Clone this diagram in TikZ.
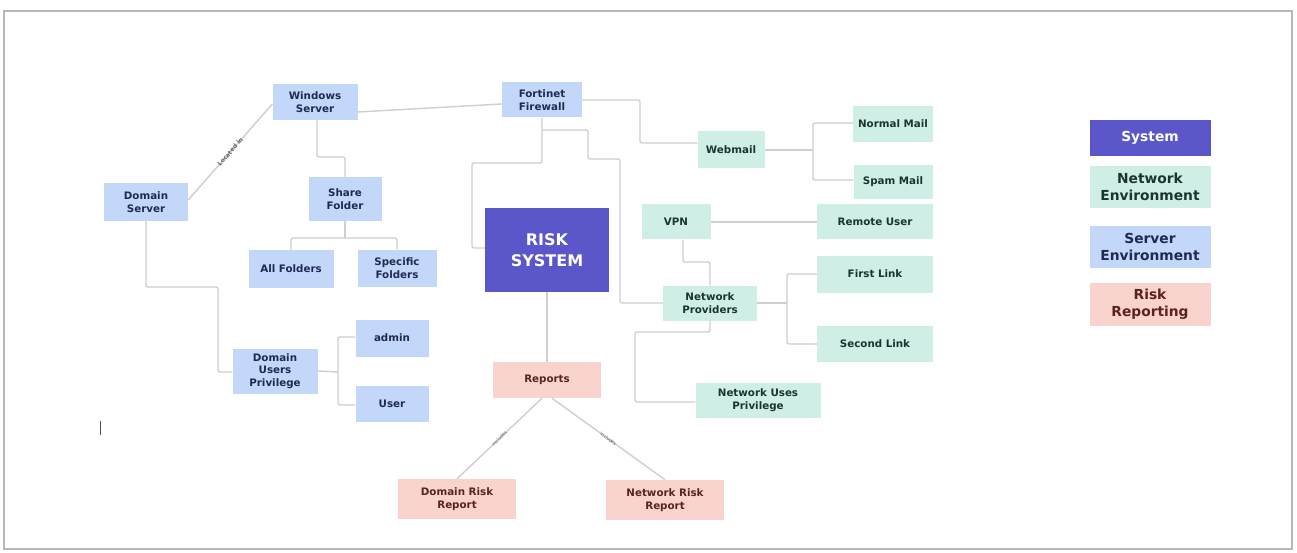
\documentclass[tikz,border=0pt]{standalone}
\usepackage{fontspec}
\setmainfont{DejaVu Sans}
\definecolor{srvc}{HTML}{C3D7F8}
\definecolor{srvt}{HTML}{1E2A55}
\definecolor{netc}{HTML}{CFEEE6}
\definecolor{nett}{HTML}{1B352E}
\definecolor{rskc}{HTML}{F9D4CE}
\definecolor{rskt}{HTML}{5A2222}
\definecolor{sysc}{HTML}{5B57CB}
\definecolor{linec}{HTML}{CFCFCF}
\begin{document}
\begin{tikzpicture}[x=1pt,y=-1pt,
  box/.style={rectangle, inner sep=0pt, align=center, font=\bfseries\fontsize{10.3}{12.5}\selectfont},
  sz/.style 2 args={minimum width=#1, minimum height=#2},
  srv/.style={box, fill=srvc, text=srvt},
  net/.style={box, fill=netc, text=nett},
  rsk/.style={box, fill=rskc, text=rskt},
  sys/.style={box, fill=sysc, text=white},
  leg/.style={font=\bfseries\fontsize{13.8}{17}\selectfont},
  conn/.style={draw=linec, line width=1.4pt, rounded corners=2pt},
  tinylab/.style={font=\fontsize{4.5}{5}\selectfont, text=black!65, sloped, inner sep=0.5pt}]
\fill[white] (0,0) rectangle (1297,553);
\draw[black!28, line width=1.6pt] (4,11) rectangle (1292,549);

% server environment
\node[srv, sz={85}{36}] (ws) at (315,102) {Windows\\Server};
\node[srv, sz={80}{35}] (fw) at (542,100) {Fortinet\\Firewall};
\node[srv, sz={84}{38}] (ds) at (146,202) {Domain\\Server};
\node[srv, sz={73}{44}] (sf) at (345,199) {Share\\Folder};
\node[srv, sz={85}{38}] (af) at (291,269) {All Folders};
\node[srv, sz={79}{37}] (spf) at (397,268) {Specific\\Folders};
\node[srv, sz={85}{45}] (dup) at (275,371) {Domain\\Users\\Privilege};
\node[srv, sz={73}{37}] (adm) at (392,338) {admin};
\node[srv, sz={73}{36}] (usr) at (392,404) {User};

% network environment
\node[net, sz={67}{37}] (web) at (731,150) {Webmail};
\node[net, sz={80}{36}] (nm) at (893,124) {Normal Mail};
\node[net, sz={79}{34}] (sm) at (893,182) {Spam Mail};
\node[net, sz={69}{35}] (vpn) at (676,222) {VPN};
\node[net, sz={116}{35}] (ru) at (875,222) {Remote User};
\node[net, sz={94}{35}] (np) at (710,303) {Network\\Providers};
\node[net, sz={116}{37}] (fl) at (875,274) {First Link};
\node[net, sz={116}{36}] (sl) at (875,344) {Second Link};
\node[net, sz={125}{35}] (nup) at (758,400) {Network Uses\\Privilege};

% system
\node[sys, sz={124}{83}, font=\bfseries\fontsize{16}{21}\selectfont] (risk) at (547,250) {RISK\\SYSTEM};

% risk reporting
\node[rsk, sz={108}{36}] (rep) at (547,380) {Reports};
\node[rsk, sz={118}{40}] (drr) at (457,499) {Domain Risk\\Report};
\node[rsk, sz={118}{40}] (nrr) at (665,500) {Network Risk\\Report};

% legend
\node[sys, sz={121}{36}, leg] (lsys) at (1150,138) {System};
\node[net, sz={121}{42}, leg] (lnet) at (1150,187) {Network\\Environment};
\node[srv, sz={121}{42}, leg] (lsrv) at (1150,247) {Server\\Environment};
\node[rsk, sz={121}{43}, leg] (lrsk) at (1150,304) {Risk\\Reporting};

% junction coordinates
\coordinate (wj) at (813,150);
\coordinate (nj) at (787,303);
\coordinate (sj) at (345,238);
\coordinate (dj) at (338,372);

% connectors
\draw[conn] ([yshift=-10pt]ws.east) -- ([yshift=-4pt]fw.west);
\draw[conn] (fw.east) -- (640,100) |- ([yshift=7pt]web.west);
\draw[conn] (fw.south) |- (472,163) |- ([yshift=2pt]risk.west);
\draw[conn] (542,130) -| (588,159) -| (620,303) -- (np.west);
\draw[conn] (web.east) -- (wj);
\draw[conn] (wj) |- ([yshift=1pt]nm.west);
\draw[conn] (wj) |- ([yshift=2pt]sm.west);
\draw[conn] (vpn.east) -- (ru.west);
\draw[conn] ([xshift=7pt]vpn.south) |- (710,262) -- (np.north);
\draw[conn] (np.east) -- (nj);
\draw[conn] (nj) |- (fl.west);
\draw[conn] (nj) |- (sl.west);
\draw[conn] (np.south) |- (635,332) |- ([yshift=-2pt]nup.west);
\draw[conn] (risk.south) -- (rep.north);
\draw[conn] ([xshift=-5pt]rep.south) -- node[tinylab]{includes} (drr.north);
\draw[conn] ([xshift=5pt]rep.south) -- node[tinylab]{includes} (nrr.north);
\draw[conn] ([yshift=2pt]ds.east) -- node[tinylab, font=\bfseries\fontsize{6}{7}\selectfont, text=black!60]{Located in} ([yshift=-2pt]ws.west);
\draw[conn] ([xshift=2pt]ws.south) |- (345,157) -- (sf.north);
\draw[conn] (sf.south) -- (sj);
\draw[conn] (sj) -| (af.north);
\draw[conn] (sj) -| (spf.north);
\draw[conn] (ds.south) |- (218,287) |- ([yshift=-1pt]dup.west);
\draw[conn] (dup.east) -- (dj);
\draw[conn] (dj) |- ([yshift=1pt]adm.west);
\draw[conn] (dj) |- ([yshift=-1pt]usr.west);

% text cursor mark
\draw[black!70, line width=1pt] (100,421) -- (100,435);
\end{tikzpicture}
\end{document}
